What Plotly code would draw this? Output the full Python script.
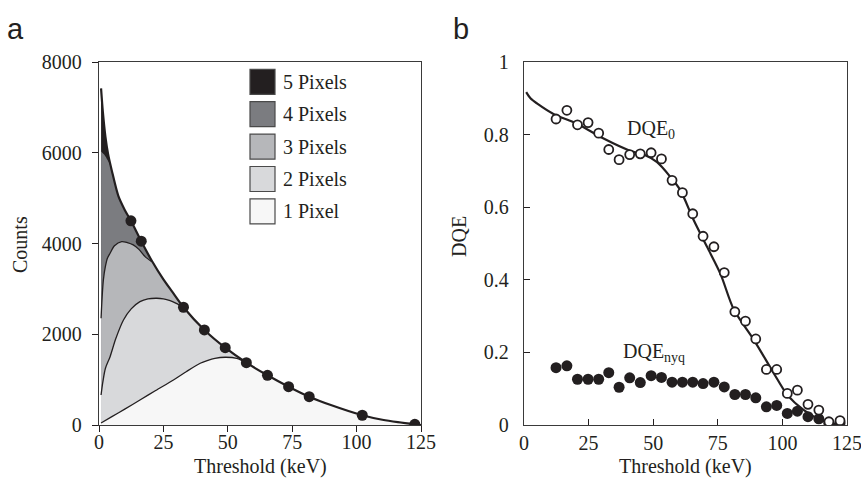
import plotly.graph_objects as go

# ---------------- data: panel a ----------------
total_x = [0.8, 1.5, 2.5, 3.5, 5, 7.5, 10, 12.4, 16.4, 20.5, 25, 28.4, 32.8, 40.9, 49, 57.2,
           65.4, 73.6, 81.6, 90, 102.2, 110, 116, 122.6, 125]
total_y = [7420, 6900, 6350, 5980, 5600, 5050, 4740, 4500, 4050, 3620, 3210, 2940, 2595, 2095,
           1705, 1374, 1096, 845, 624, 440, 215, 115, 62, 15, 0]

b4_x = [0.8, 2, 3, 4]
b4_y = [6030, 5960, 5870, 5770]

b3_x = [0.8, 1.2, 1.7, 2.5, 3.3, 4.3, 6, 8.8, 11, 13.3, 15.5, 17.9, 20.5]
b3_y = [2353, 2800, 3197, 3500, 3680, 3786, 3950, 4042, 4020, 3969, 3870, 3711, 3600]

b2_x = [0.8, 1.5, 2.5, 4.3, 6.5, 9.5, 12.5, 15.9, 19, 22.4, 25, 27.6, 30, 32.8]
b2_y = [661, 950, 1250, 1506, 1900, 2315, 2560, 2719, 2780, 2793, 2780, 2741, 2680, 2595]

b1_x = [0.8, 5, 10, 15.9, 22, 28.9, 34, 39.3, 42, 45, 49, 53.5, 57.2]
b1_y = [44, 185, 350, 551, 760, 992, 1180, 1360, 1420, 1470, 1493, 1470, 1374]

dots_x = [12.4, 16.4, 32.8, 40.9, 49, 57.2, 65.4, 73.6, 81.6, 102.2, 122.6]
dots_y = [4500, 4050, 2595, 2095, 1705, 1374, 1096, 845, 624, 215, 15]

layer_names = ["5 Pixels", "4 Pixels", "3 Pixels", "2 Pixels", "1 Pixel"]
layer_colors = ["#231f20", "#7b7c80", "#b6b7ba", "#d8d9db", "#f7f7f7"]

# ---------------- data: panel b ----------------
thr = [12.4, 16.6, 20.7, 24.8, 28.9, 32.8, 36.8, 40.9, 45.0, 49.2, 53.2, 57.3, 61.3, 65.3,
       69.3, 73.5, 77.5, 81.6, 85.7, 89.7, 93.8, 97.8, 101.9, 105.8, 109.9, 114.1, 118.0, 122.3]
dqe0 = [0.843, 0.867, 0.827, 0.833, 0.804, 0.759, 0.731, 0.745, 0.747, 0.750, 0.733, 0.674,
        0.640, 0.582, 0.520, 0.491, 0.420, 0.312, 0.286, 0.237, 0.153, 0.153, 0.087, 0.096,
        0.057, 0.041, 0.009, 0.012]
dqe_nyq = [0.158, 0.163, 0.126, 0.126, 0.126, 0.144, 0.104, 0.130, 0.117, 0.136, 0.131, 0.118,
           0.118, 0.118, 0.114, 0.118, 0.105, 0.084, 0.084, 0.075, 0.050, 0.054, 0.032, 0.038,
           0.023, 0.017, 0.005, 0.006]
fit_x = [0.85, 2.5, 5, 11.4, 20.5, 30.8, 41.2, 46.3, 51.5, 56.7, 60.5, 65.7, 70.9, 76, 81.2,
         89, 96.7, 101.9, 108.3, 114.8, 120, 123]
fit_y = [0.917, 0.900, 0.886, 0.857, 0.830, 0.789, 0.755, 0.745, 0.724, 0.683, 0.647, 0.564,
         0.490, 0.417, 0.318, 0.234, 0.142, 0.083, 0.041, 0.014, 0.003, 0.0]

x_ticks = [0, 25, 50, 75, 100, 125]

W, H = 861, 487
SERIF = "Liberation Serif, Times New Roman, serif"
INK = "#231f20"


def extend(bx, by):
    """boundary curve continued along the total curve after it merges"""
    xs, ys = list(bx), list(by)
    for x, y in zip(total_x, total_y):
        if x > bx[-1] + 1.0:
            xs.append(x)
            ys.append(y)
    return xs, ys


fig = go.Figure()

# stacked fills (overlay, each filled to zero)
curves = [(total_x, total_y), extend(b4_x, b4_y), extend(b3_x, b3_y),
          extend(b2_x, b2_y), extend(b1_x, b1_y)]
for (cx, cy), name, col in zip(curves, layer_names, layer_colors):
    fig.add_trace(go.Scatter(x=cx, y=cy, mode="lines", fill="tozeroy", fillcolor=col,
                             line=dict(width=0, shape="spline", smoothing=0.8, color=col),
                             name=name, showlegend=False, xaxis="x", yaxis="y"))

# boundary lines
for bx, by in [(b3_x, b3_y), (b2_x, b2_y), (b1_x, b1_y)]:
    fig.add_trace(go.Scatter(x=bx, y=by, mode="lines",
                             line=dict(width=1.3, color=INK, shape="spline", smoothing=0.8),
                             showlegend=False, xaxis="x", yaxis="y"))
fig.add_trace(go.Scatter(x=total_x, y=total_y, mode="lines",
                         line=dict(width=2.2, color=INK, shape="spline", smoothing=0.8),
                         showlegend=False, xaxis="x", yaxis="y"))
fig.add_trace(go.Scatter(x=dots_x, y=dots_y, mode="markers",
                         marker=dict(size=11, color=INK), showlegend=False,
                         xaxis="x", yaxis="y"))

# panel b
fig.add_trace(go.Scatter(x=fit_x, y=fit_y, mode="lines",
                         line=dict(width=2.2, color=INK, shape="spline", smoothing=0.8),
                         showlegend=False, xaxis="x2", yaxis="y2"))
fig.add_trace(go.Scatter(x=thr, y=dqe_nyq, mode="markers",
                         marker=dict(size=11, color=INK), showlegend=False,
                         xaxis="x2", yaxis="y2"))
fig.add_trace(go.Scatter(x=thr, y=dqe0, mode="markers",
                         marker=dict(size=9, color="white", line=dict(width=1.8, color=INK)),
                         showlegend=False, xaxis="x2", yaxis="y2"))


def px_x(p):
    return p / W


def px_y(p):
    return 1 - p / H


tickfont = dict(family=SERIF, size=20, color=INK)
common = dict(showgrid=False, zeroline=False, showline=True, mirror=True, automargin=False,
              linecolor="#3a3a3a", linewidth=1.3, tickcolor=INK, tickwidth=1.2,
              tickfont=tickfont, ticklabeloverflow="allow")

fig.update_layout(
    width=W, height=H, margin=dict(l=0, r=0, t=0, b=0, pad=0, autoexpand=False),
    paper_bgcolor="white", plot_bgcolor="white", showlegend=False,
    xaxis=dict(domain=[px_x(99), px_x(421)], range=[0, 125], tickvals=x_ticks,
               ticks="outside", ticklen=6, ticklabelstandoff=-7, anchor="y", **common),
    yaxis=dict(domain=[px_y(425), px_y(62)], range=[0, 8000], dtick=2000,
               ticks="outside", ticklen=6, ticklabelstandoff=6, anchor="x", **common),
    xaxis2=dict(domain=[px_x(524), px_x(847)], range=[0, 125], tickvals=x_ticks,
                ticks="inside", ticklen=6, ticklabelstandoff=0, anchor="y2", **common),
    yaxis2=dict(domain=[px_y(425), px_y(62)], range=[0, 1], dtick=0.2,
                ticks="inside", ticklen=6, ticklabelstandoff=10, anchor="x2", **common),
)

ann = []
shapes = []
# legend of panel a
for i, (name, col) in enumerate(zip(layer_names, layer_colors)):
    cy = 81.8 + 32.4 * i
    shapes.append(dict(type="rect", xref="paper", yref="paper",
                       x0=px_x(250), x1=px_x(275), y0=px_y(cy + 12.5), y1=px_y(cy - 12.5),
                       fillcolor=col, line=dict(color="#4a4a4a", width=1.2)))
    ann.append(dict(text=name, xref="paper", yref="paper", x=px_x(281), y=px_y(cy),
                    xanchor="left", yanchor="middle", showarrow=False,
                    font=dict(family=SERIF, size=20, color=INK)))

# axis titles
tfont = dict(family=SERIF, size=20, color=INK)
ann += [
    dict(text="Threshold (keV)", xref="paper", yref="paper", x=px_x(260), y=px_y(466),
         xanchor="center", yanchor="middle", showarrow=False, font=tfont),
    dict(text="Threshold (keV)", xref="paper", yref="paper", x=px_x(685), y=px_y(466),
         xanchor="center", yanchor="middle", showarrow=False, font=tfont),
    dict(text="Counts", xref="paper", yref="paper", x=px_x(20), y=px_y(245),
         xanchor="center", yanchor="middle", showarrow=False, textangle=-90, font=tfont),
    dict(text="DQE", xref="paper", yref="paper", x=px_x(459), y=px_y(236),
         xanchor="center", yanchor="middle", showarrow=False, textangle=-90, font=tfont),
    dict(text="DQE<sub>0</sub>", xref="x2", yref="y2", x=39.2, y=0.815,
         xanchor="left", yanchor="middle", showarrow=False, font=tfont),
    dict(text="DQE<sub>nyq</sub>", xref="x2", yref="y2", x=37.7, y=0.2,
         xanchor="left", yanchor="middle", showarrow=False, font=tfont),
    dict(text="a", xref="paper", yref="paper", x=px_x(15), y=px_y(29),
         xanchor="center", yanchor="middle", showarrow=False,
         font=dict(family="Liberation Sans Narrow, Liberation Sans, sans-serif", size=29, color=INK)),
    dict(text="b", xref="paper", yref="paper", x=px_x(461), y=px_y(29),
         xanchor="center", yanchor="middle", showarrow=False,
         font=dict(family="Liberation Sans Narrow, Liberation Sans, sans-serif", size=29, color=INK)),
]
fig.update_layout(annotations=ann, shapes=shapes)

fig.write_html("out.html")
